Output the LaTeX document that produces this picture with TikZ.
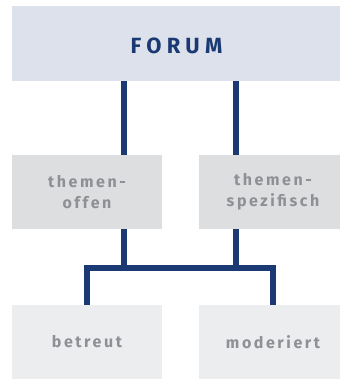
\documentclass[tikz,border=0pt]{standalone}
\usepackage{fontspec}
\setmainfont{Fira Sans}
\definecolor{navy}{HTML}{1B3A73}
\definecolor{topfill}{HTML}{DCE1EB}
\definecolor{midfill}{HTML}{DDDEE0}
\definecolor{botfill}{HTML}{ECEDEF}
\definecolor{graytxt}{HTML}{8E9095}
\begin{document}
\begin{tikzpicture}[x=1pt,y=-1pt,
  box/.style={rectangle, inner sep=0pt, minimum height=74pt, align=center, text=graytxt,
    font=\fontsize{16}{20.6}\selectfont\bfseries\addfontfeatures{LetterSpace=16}},
  conn/.style={draw=navy, line width=5.5pt}]
\useasboundingbox (0,0) rectangle (339,379);
\node[rectangle, inner sep=0pt, fill=topfill, minimum width=329pt, minimum height=75pt,
  text height=19.6pt, text depth=0pt,
  text=navy, font=\fontsize{22}{26}\selectfont\bfseries\addfontfeatures{LetterSpace=24}] (forum) at (176.5,43.5) {FORUM\hspace{-5.3pt}};
\node[box, fill=midfill, minimum width=150pt] (ml) at (87,192) {themen-\\offen};
\node[box, fill=midfill, minimum width=148pt] (mr) at (273,192) {themen-\\spezifisch};
\node[box, fill=botfill, minimum width=150pt] (bl) at (87,342) {betreut};
\node[box, fill=botfill, minimum width=148pt] (br) at (273,342) {moderiert};
\coordinate (xa) at (124,0);
\coordinate (xb) at (236,0);
\coordinate (xc) at (87,0);
\coordinate (xd) at (273,0);
\coordinate (bar) at (0,268);
\draw[conn] (forum.south -| xa) -- (ml.north -| xa);
\draw[conn] (forum.south -| xb) -- (mr.north -| xb);
\draw[conn] (ml.south -| xa) -- (bar -| xa);
\draw[conn] (mr.south -| xb) -- (bar -| xb);
\draw[conn] (bl.north -| xc) -- (bar -| xc) -- (bar -| xd) -- (br.north -| xd);
\end{tikzpicture}
\end{document}
